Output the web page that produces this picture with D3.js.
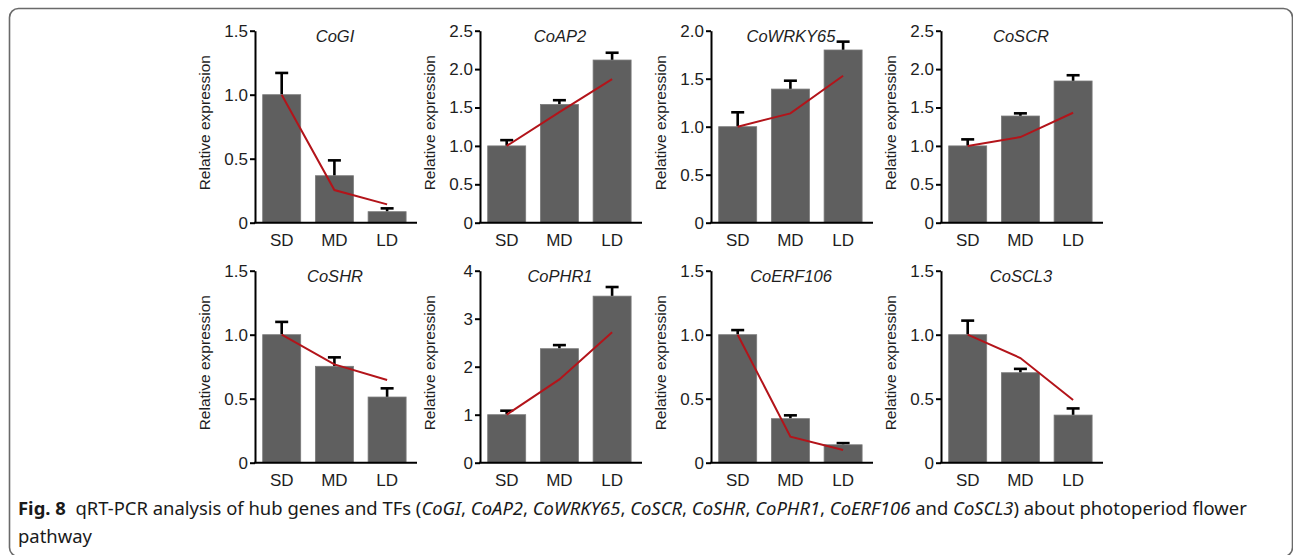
<!DOCTYPE html>
<html>
<head>
<meta charset="utf-8">
<script src="https://cdn.jsdelivr.net/npm/d3@7.9.0/dist/d3.min.js"></script>
<style>
  html, body { margin: 0; padding: 0; background: #fff; }
  svg { display: block; }
  .panel text { font-family: "Liberation Sans", Arial, sans-serif; fill: #1e1e1e; }
  .caption { font-family: "Noto Sans", "Open Sans", sans-serif; fill: #1a1a1a; }
</style>
</head>
<body>
<svg id="chart" width="1293" height="555"></svg>
<script>
// Values
const genes = ['CoGI', 'CoAP2', 'CoWRKY65', 'CoSCR', 'CoSHR', 'CoPHR1', 'CoERF106', 'CoSCL3'];
const categories = ['SD', 'MD', 'LD'];

// bar heights (relative expression)
const means = [
  [1.0, 0.367, 0.086],
  [1.0, 1.54, 2.118],
  [1.0, 1.392, 1.799],
  [1.0, 1.389, 1.845],
  [1.0, 0.753, 0.513],
  [1.0, 2.375, 3.47],
  [1.0, 0.344, 0.14],
  [1.0, 0.703, 0.372],
];

// upper error (SD)
const errors = [
  [0.17, 0.12, 0.026],
  [0.075, 0.055, 0.095],
  [0.15, 0.087, 0.087],
  [0.085, 0.035, 0.075],
  [0.10, 0.07, 0.068],
  [0.083, 0.075, 0.19],
  [0.036, 0.026, 0.013],
  [0.11, 0.03, 0.052],
];

// red trend line (RNA-seq)
const trend = [
  [1.0, 0.255, 0.143],
  [1.0, 1.44, 1.87],
  [1.0, 1.139, 1.531],
  [1.0, 1.115, 1.432],
  [1.0, 0.768, 0.646],
  [1.0, 1.736, 2.72],
  [1.0, 0.203, 0.099],
  [1.0, 0.818, 0.49],
];

const yMax = [1.5, 2.5, 2.0, 2.5, 1.5, 4, 1.5, 1.5];
const yTicks = [
  [0, 0.5, 1.0, 1.5],
  [0, 0.5, 1.0, 1.5, 2.0, 2.5],
  [0, 0.5, 1.0, 1.5, 2.0],
  [0, 0.5, 1.0, 1.5, 2.0, 2.5],
  [0, 0.5, 1.0, 1.5],
  [0, 1, 2, 3, 4],
  [0, 0.5, 1.0, 1.5],
  [0, 0.5, 1.0, 1.5],
];
const yTickLabels = [
  ['0', '0.5', '1.0', '1.5'],
  ['0', '0.5', '1.0', '1.5', '2.0', '2.5'],
  ['0', '0.5', '1.0', '1.5', '2.0'],
  ['0', '0.5', '1.0', '1.5', '2.0', '2.5'],
  ['0', '0.5', '1.0', '1.5'],
  ['0', '1', '2', '3', '4'],
  ['0', '0.5', '1.0', '1.5'],
  ['0', '0.5', '1.0', '1.5'],
];

// layout
const axisX = [255, 480, 711, 941];
const rowTop = [30.7, 270.7];
const plotH = 192;
const plotW = 162;

const svg = d3.select('#chart');

// rounded frame
svg.append('rect')
  .attr('x', 9.5).attr('y', 8.5)
  .attr('width', 1283).attr('height', 548)
  .attr('rx', 9)
  .attr('fill', 'none')
  .attr('stroke', '#6a6a6a')
  .attr('stroke-width', 1.6);

function renderPanel(i) {
  const left = axisX[i % 4];
  const top = rowTop[Math.floor(i / 4)];
  const g = svg.append('g')
    .attr('class', 'panel')
    .attr('transform', `translate(${left},${top})`);

  const x = d3.scaleBand()
    .domain(categories)
    .range([0, 158.8])
    .paddingInner(0.279)
    .paddingOuter(0.146);

  const y = d3.scaleLinear()
    .domain([0, yMax[i]])
    .range([plotH, 0]);

  const rows = categories.map((c, k) => ({ cat: c, mean: means[i][k], err: errors[i][k], trend: trend[i][k] }));

  // error bars (upper half shows above bar)
  const eb = g.append('g').attr('class', 'errors');
  eb.selectAll('line.stem')
    .data(rows)
    .join('line')
    .attr('class', 'stem')
    .attr('x1', d => x(d.cat) + x.bandwidth() / 2)
    .attr('x2', d => x(d.cat) + x.bandwidth() / 2)
    .attr('y1', d => y(d.mean))
    .attr('y2', d => y(d.mean + d.err))
    .attr('stroke', '#000')
    .attr('stroke-width', 2.6);
  eb.selectAll('line.cap')
    .data(rows)
    .join('line')
    .attr('class', 'cap')
    .attr('x1', d => x(d.cat) + x.bandwidth() / 2 - 6.5)
    .attr('x2', d => x(d.cat) + x.bandwidth() / 2 + 6.5)
    .attr('y1', d => y(d.mean + d.err))
    .attr('y2', d => y(d.mean + d.err))
    .attr('stroke', '#000')
    .attr('stroke-width', 2.6);

  // bars
  g.append('g').attr('class', 'bars')
    .selectAll('rect')
    .data(rows)
    .join('rect')
    .attr('x', d => x(d.cat))
    .attr('y', d => y(d.mean))
    .attr('width', x.bandwidth())
    .attr('height', d => plotH - y(d.mean))
    .attr('fill', '#5f5f5f')
    .attr('stroke', '#7a7a7a')
    .attr('stroke-width', 0.8);

  // trend line
  g.append('path')
    .datum(rows)
    .attr('fill', 'none')
    .attr('stroke', '#b3141a')
    .attr('stroke-width', 2)
    .attr('d', d3.line()
      .x(d => x(d.cat) + x.bandwidth() / 2)
      .y(d => y(d.trend)));

  // axes
  const yAxis = d3.axisLeft(y)
    .tickValues(yTicks[i])
    .tickFormat((d, k) => yTickLabels[i][k])
    .tickSize(5)
    .tickSizeOuter(0)
    .tickPadding(2);
  const ya = g.append('g').call(yAxis);
  ya.select('.domain').attr('stroke', '#000').attr('stroke-width', 2);
  ya.selectAll('.tick line').attr('stroke', '#000').attr('stroke-width', 2);
  ya.selectAll('.tick text').style('font-size', '17px').attr('fill', '#1e1e1e');

  g.append('line')
    .attr('x1', -1).attr('x2', plotW)
    .attr('y1', plotH).attr('y2', plotH)
    .attr('stroke', '#000').attr('stroke-width', 2);

  g.selectAll('text.cat')
    .data(categories)
    .join('text')
    .attr('class', 'cat')
    .attr('x', d => x(d) + x.bandwidth() / 2)
    .attr('y', plotH + 23)
    .attr('text-anchor', 'middle')
    .style('font-size', '17px')
    .text(d => d);

  g.append('text')
    .attr('transform', `translate(-45,${plotH / 2 - 4}) rotate(-90)`)
    .attr('text-anchor', 'middle')
    .style('font-size', '15.5px')
    .text('Relative expression');

  g.append('text')
    .attr('x', 80).attr('y', 11)
    .attr('text-anchor', 'middle')
    .style('font-size', '16.5px')
    .style('font-style', 'italic')
    .text(genes[i]);
}

genes.forEach((_, i) => renderPanel(i));

// caption
const cap = svg.append('text')
  .attr('class', 'caption')
  .attr('x', 18).attr('y', 515)
  .style('font-size', '18px');
cap.append('tspan').style('font-weight', 'bold').text('Fig. 8');
cap.append('tspan').text('\u00a0\u00a0qRT-PCR analysis of hub genes and TFs (');
genes.forEach((gname, k) => {
  cap.append('tspan').style('font-style', 'italic').text(gname);
  if (k < genes.length - 2) cap.append('tspan').text(', ');
  else if (k === genes.length - 2) cap.append('tspan').text(' and ');
});
cap.append('tspan').text(') about photoperiod flower');

// fit first caption line to the reference width
const natural = cap.node().getComputedTextLength();
cap.style('font-size', (18 * 1229 / natural).toFixed(2) + 'px');

svg.append('text')
  .attr('class', 'caption')
  .attr('x', 18).attr('y', 543)
  .style('font-size', (18 * 1229 / natural).toFixed(2) + 'px')
  .text('pathway');
</script>
</body>
</html>
